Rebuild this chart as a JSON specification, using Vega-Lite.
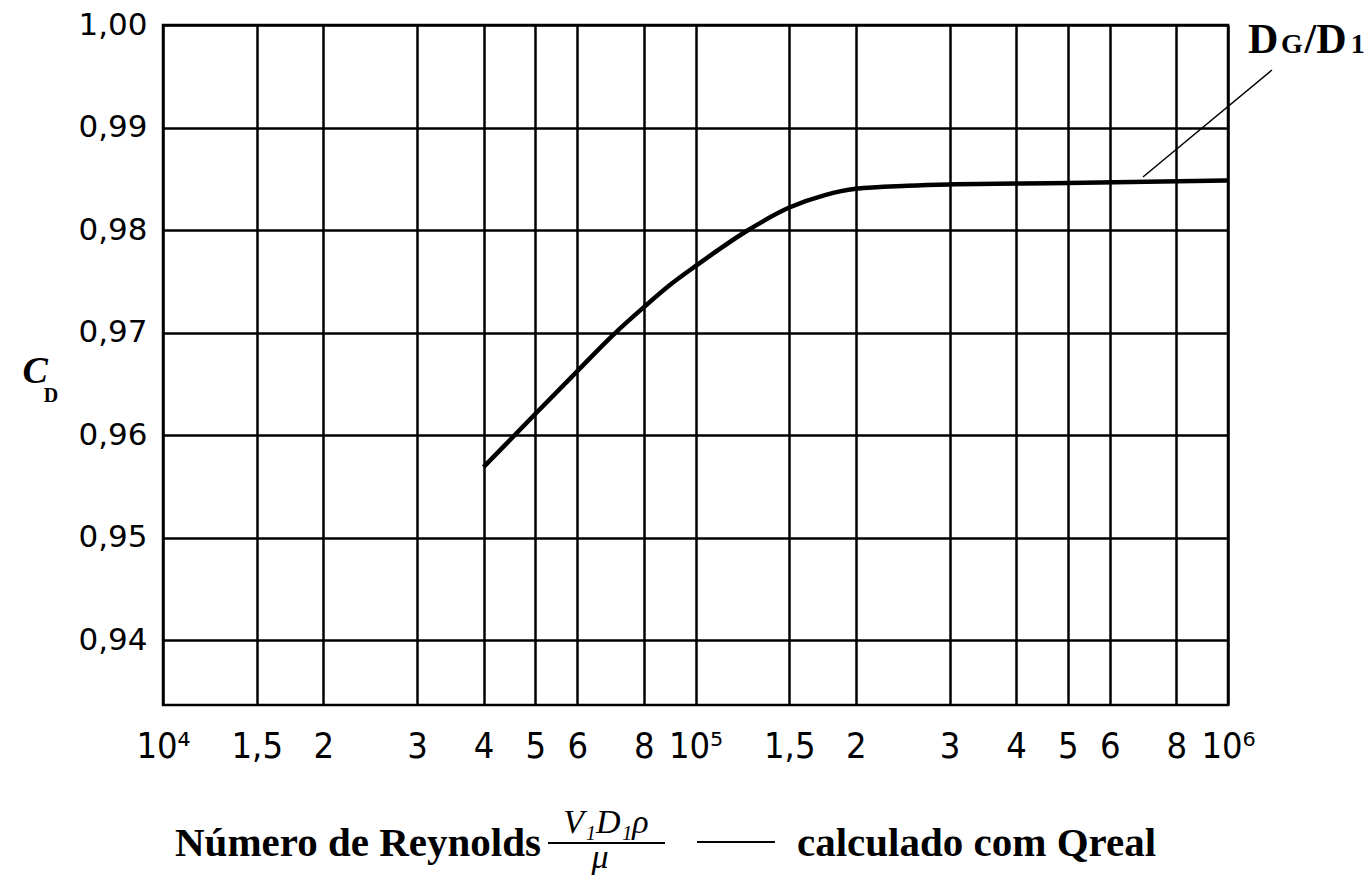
{
  "$schema": "https://vega.github.io/schema/vega-lite/v6.json",
  "width": 1065,
  "height": 680,
  "autosize": {"type": "none"},
  "padding": {"left": 163, "top": 25, "right": 140, "bottom": 180},
  "background": "white",
  "config": {
    "view": {"stroke": "black", "strokeWidth": 2.5},
    "axis": {"gridColor": "black", "gridOpacity": 1, "gridWidth": 2.5, "domain": false, "ticks": false, "labelColor": "black"}
  },
  "datasets": {
    "curve": [
      {"re": 40000, "cd": 0.9569},
      {"re": 50000, "cd": 0.96207},
      {"re": 60000, "cd": 0.96626},
      {"re": 70000, "cd": 0.96977},
      {"re": 80000, "cd": 0.97249},
      {"re": 90000, "cd": 0.97474},
      {"re": 100000, "cd": 0.97649},
      {"re": 125000, "cd": 0.97994},
      {"re": 150000, "cd": 0.9822},
      {"re": 175000, "cd": 0.98342},
      {"re": 200000, "cd": 0.98403},
      {"re": 250000, "cd": 0.98433},
      {"re": 300000, "cd": 0.98446},
      {"re": 500000, "cd": 0.98459},
      {"re": 1000000, "cd": 0.98484}
    ],
    "rules": [
      {"id": "bar", "re": 52840, "re2": 87650, "cd": 0.92025, "cd2": 0.92025},
      {"id": "dash", "re": 100650, "re2": 141000, "cd": 0.92034, "cd2": 0.92034},
      {"id": "leader", "re": 692300, "re2": 1209300, "cd": 0.98518, "cd2": 0.99561}
    ],
    "notes": [
      {"id": "C", "text": "C", "re": 5752, "cd": 0.9662},
      {"id": "Dsub", "text": "D", "re": 6163, "cd": 0.96383},
      {"id": "title1", "text": "Número de Reynolds", "re": 10533, "cd": 0.91898},
      {"id": "title2", "text": "calculado com Qreal", "re": 155100, "cd": 0.91898},
      {"id": "num", "text": "V₁D₁ρ", "re": 67910, "cd": 0.92122},
      {"id": "den", "text": "μ", "re": 66170, "cd": 0.91781},
      {"id": "big", "text": "D", "re": 1090300, "cd": 0.99727},
      {"id": "small", "text": "G", "re": 1258000, "cd": 0.99727},
      {"id": "big", "text": "/D", "re": 1392000, "cd": 0.99727},
      {"id": "small", "text": "1", "re": 1700000, "cd": 0.99727}
    ]
  },
  "layer": [
    {
      "data": {"name": "curve"},
      "mark": {"type": "line", "color": "black", "strokeWidth": 4.5, "interpolate": "monotone", "clip": false},
      "encoding": {
        "x": {
          "field": "re", "type": "quantitative",
          "scale": {"type": "log", "domain": [10000, 1000000], "nice": false},
          "axis": {
            "title": null,
            "values": [10000, 15000, 20000, 30000, 40000, 50000, 60000, 80000, 100000, 150000, 200000, 300000, 400000, 500000, 600000, 800000, 1000000],
            "labelExpr": "datum.value==10000?'10⁴':datum.value==100000?'10⁵':datum.value==1000000?'10⁶':(datum.value==15000||datum.value==150000)?'1,5':format(datum.value/(datum.value<100000?10000:100000),'d')",
            "grid": true,
            "labelFont": "Liberation Sans Narrow, DejaVu Sans Condensed, DejaVu Sans",
            "labelFontSize": 36,
            "labelPadding": 24,
            "labelFlush": false,
            "labelOverlap": false
          }
        },
        "y": {
          "field": "cd", "type": "quantitative",
          "scale": {"domain": [0.9337, 1.0], "nice": false, "zero": false},
          "axis": {
            "title": null,
            "values": [0.94, 0.95, 0.96, 0.97, 0.98, 0.99, 1.0],
            "labelExpr": "replace(format(datum.value,'.2f'),'.',',')",
            "grid": true,
            "labelFont": "DejaVu Sans",
            "labelFontSize": 31,
            "labelPadding": 16,
            "labelOffset": 0,
            "labelFlush": false,
            "labelOverlap": false
          }
        }
      }
    },
    {
      "data": {"name": "rules"},
      "transform": [{"filter": "datum.id != 'leader'"}],
      "mark": {"type": "rule", "color": "black", "strokeWidth": 2, "clip": false},
      "encoding": {
        "x": {"field": "re", "type": "quantitative", "scale": {"type": "log", "domain": [10000, 1000000], "nice": false}},
        "x2": {"field": "re2"},
        "y": {"field": "cd", "type": "quantitative", "scale": {"domain": [0.9337, 1.0], "nice": false, "zero": false}},
        "y2": {"field": "cd2"}
      }
    },
    {
      "data": {"name": "rules"},
      "transform": [{"filter": "datum.id == 'leader'"}],
      "mark": {"type": "rule", "color": "black", "strokeWidth": 1.5, "clip": false},
      "encoding": {
        "x": {"field": "re", "type": "quantitative", "scale": {"type": "log", "domain": [10000, 1000000], "nice": false}},
        "x2": {"field": "re2"},
        "y": {"field": "cd", "type": "quantitative", "scale": {"domain": [0.9337, 1.0], "nice": false, "zero": false}},
        "y2": {"field": "cd2"}
      }
    },
    {
      "data": {"name": "notes"},
      "transform": [{"filter": "datum.id == 'C'"}],
      "mark": {"type": "text", "font": "Liberation Serif", "fontStyle": "italic", "fontWeight": "bold", "fontSize": 38, "align": "center", "baseline": "middle", "color": "black", "clip": false},
      "encoding": {
        "x": {"field": "re", "type": "quantitative", "scale": {"type": "log", "domain": [10000, 1000000], "nice": false}},
        "y": {"field": "cd", "type": "quantitative", "scale": {"domain": [0.9337, 1.0], "nice": false, "zero": false}},
        "text": {"field": "text"}
      }
    },
    {
      "data": {"name": "notes"},
      "transform": [{"filter": "datum.id == 'Dsub'"}],
      "mark": {"type": "text", "font": "Liberation Serif", "fontWeight": "bold", "fontSize": 20, "align": "center", "baseline": "middle", "color": "black", "clip": false},
      "encoding": {
        "x": {"field": "re", "type": "quantitative", "scale": {"type": "log", "domain": [10000, 1000000], "nice": false}},
        "y": {"field": "cd", "type": "quantitative", "scale": {"domain": [0.9337, 1.0], "nice": false, "zero": false}},
        "text": {"field": "text"}
      }
    },
    {
      "data": {"name": "notes"},
      "transform": [{"filter": "datum.id == 'title1' || datum.id == 'title2'"}],
      "mark": {"type": "text", "font": "Liberation Serif", "fontWeight": "bold", "fontSize": 41, "align": "left", "baseline": "alphabetic", "color": "black", "clip": false},
      "encoding": {
        "x": {"field": "re", "type": "quantitative", "scale": {"type": "log", "domain": [10000, 1000000], "nice": false}},
        "y": {"field": "cd", "type": "quantitative", "scale": {"domain": [0.9337, 1.0], "nice": false, "zero": false}},
        "text": {"field": "text"}
      }
    },
    {
      "data": {"name": "notes"},
      "transform": [{"filter": "datum.id == 'num' || datum.id == 'den'"}],
      "mark": {"type": "text", "font": "Liberation Serif", "fontStyle": "italic", "fontSize": 34, "align": "center", "baseline": "alphabetic", "color": "black", "clip": false},
      "encoding": {
        "x": {"field": "re", "type": "quantitative", "scale": {"type": "log", "domain": [10000, 1000000], "nice": false}},
        "y": {"field": "cd", "type": "quantitative", "scale": {"domain": [0.9337, 1.0], "nice": false, "zero": false}},
        "text": {"field": "text"}
      }
    },
    {
      "data": {"name": "notes"},
      "transform": [{"filter": "datum.id == 'big'"}],
      "mark": {"type": "text", "font": "Liberation Serif", "fontWeight": "bold", "fontSize": 42, "align": "left", "baseline": "alphabetic", "color": "black", "clip": false},
      "encoding": {
        "x": {"field": "re", "type": "quantitative", "scale": {"type": "log", "domain": [10000, 1000000], "nice": false}},
        "y": {"field": "cd", "type": "quantitative", "scale": {"domain": [0.9337, 1.0], "nice": false, "zero": false}},
        "text": {"field": "text"}
      }
    },
    {
      "data": {"name": "notes"},
      "transform": [{"filter": "datum.id == 'small'"}],
      "mark": {"type": "text", "font": "Liberation Serif", "fontWeight": "bold", "fontSize": 28, "align": "left", "baseline": "alphabetic", "color": "black", "clip": false},
      "encoding": {
        "x": {"field": "re", "type": "quantitative", "scale": {"type": "log", "domain": [10000, 1000000], "nice": false}},
        "y": {"field": "cd", "type": "quantitative", "scale": {"domain": [0.9337, 1.0], "nice": false, "zero": false}},
        "text": {"field": "text"}
      }
    }
  ]
}
